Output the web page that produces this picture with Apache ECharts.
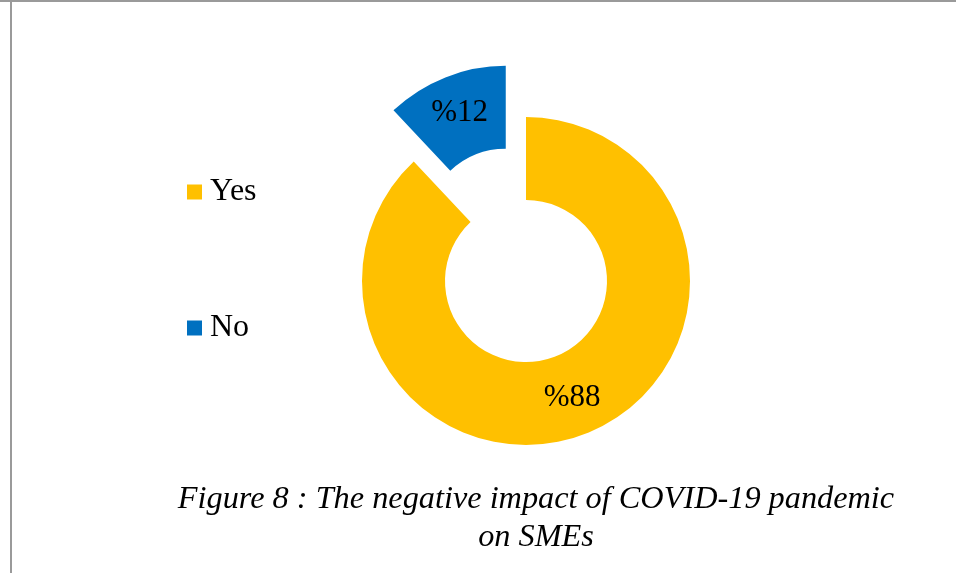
<!DOCTYPE html>
<html>
<head>
<meta charset="utf-8">
<style>
  html, body { margin: 0; padding: 0; background: #ffffff; }
  #chart { width: 956px; height: 573px; }
</style>
<script src="https://cdn.jsdelivr.net/npm/echarts@6/dist/echarts.min.js"></script>
</head>
<body>
<div id="chart"></div>
<script>
// Survey answers: did the pandemic hurt the business?
const categories = ['Yes', 'No'];
const shares = [88, 12];
const colors = ['#FFC000', '#0070C0'];
const titleLines = ['Figure 8 : The negative impact of COVID-19 pandemic', 'on SMEs'];

const serif = "'Liberation Serif', 'Times New Roman', serif";

const chart = echarts.init(document.getElementById('chart'), null, { renderer: 'canvas' });

chart.setOption({
  animation: false,
  backgroundColor: '#ffffff',
  title: {
    text: titleLines.join('\n'),
    left: 531,
    top: 476,
    textAlign: 'center',
    textStyle: {
      fontFamily: serif,
      fontStyle: 'italic',
      fontWeight: 'normal',
      fontSize: 32.3,
      lineHeight: 38,
      color: '#000000'
    }
  },
  legend: {
    orient: 'vertical',
    left: 187,
    top: 176,
    padding: 0,
    icon: 'rect',
    itemWidth: 15,
    itemHeight: 15,
    itemGap: 104,
    selectedMode: false,
    data: categories,
    textStyle: {
      fontFamily: serif,
      fontSize: 32,
      lineHeight: 30,
      color: '#000000',
      padding: [0, 0, 0, 3]
    }
  },
  graphic: [
    { type: 'rect', shape: { x: 0, y: 0, width: 956, height: 2 }, style: { fill: '#9a9a9a' }, silent: true },
    { type: 'rect', shape: { x: 10, y: 0, width: 2, height: 573 }, style: { fill: '#9a9a9a' }, silent: true }
  ],
  series: [{
    type: 'pie',
    center: [526, 281],
    radius: [81, 164],
    startAngle: 90,
    clockwise: true,
    selectedMode: 'multiple',
    selectedOffset: 55,
    avoidLabelOverlap: false,
    emphasis: { disabled: true },
    label: {
      show: true,
      position: 'inside',
      fontFamily: serif,
      fontSize: 31,
      color: '#000000',
      formatter: p => '%' + p.value
    },
    labelLine: { show: false },
    data: categories.map((name, i) => ({
      name: name,
      value: shares[i],
      selected: name === 'No',
      itemStyle: { color: colors[i] }
    }))
  }]
});
</script>
</body>
</html>
